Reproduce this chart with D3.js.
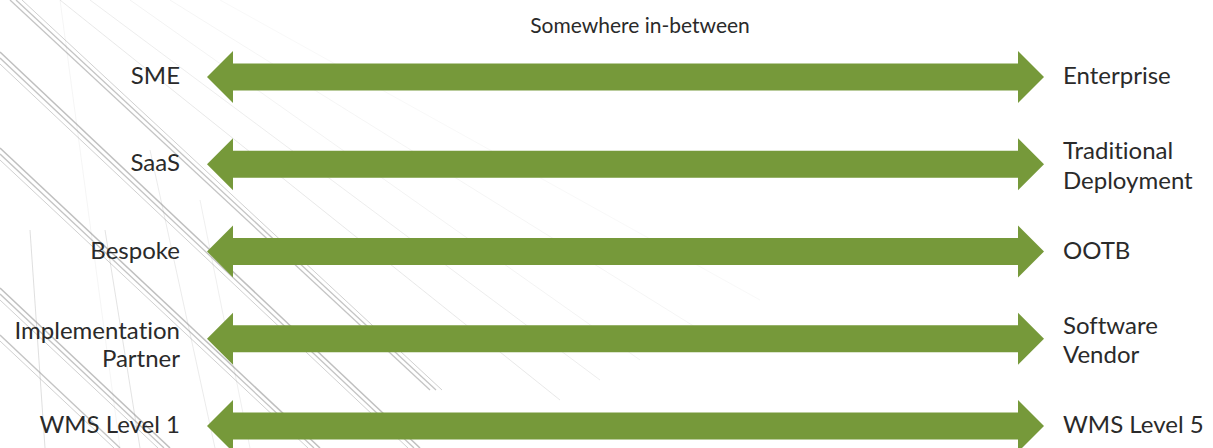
<!DOCTYPE html>
<html>
<head>
<meta charset="utf-8">
<script src="https://cdn.jsdelivr.net/npm/d3@7"></script>
<style>
  html, body { margin: 0; padding: 0; background: #ffffff; }
  svg { display: block; }
  text { font-variant-ligatures: none; }
</style>
</head>
<body>
<svg id="chart" width="1213" height="448"></svg>
<script>
// ---- data ----
const title = "Somewhere in-between";
const leftLabels = [["SME"], ["SaaS"], ["Bespoke"], ["Implementation", "Partner"], ["WMS Level 1"]];
const rightLabels = [["Enterprise"], ["Traditional", "Deployment"], ["OOTB"], ["Software", "Vendor"], ["WMS Level 5"]];
const spectrumEnds = [0, 1];

// ---- layout ----
const W = 1213, H = 448;
const svg = d3.select("#chart");
const green = "#76993a";
const textColor = "#2a2a2a";
const font = "Lato, 'Open Sans', sans-serif";

// decorative background (bridge cables)
const bg = svg.append("g").attr("class", "background");
const cables = [
  // [x1,y1,x2,y2,width,opacity]
  [10,0,430,390,1.3,0.5],[16,0,436,390,1.3,0.5],[22,0,442,390,1,0.4],
  [0,52,420,448,1.5,0.55],[0,58,414,448,1.3,0.5],[0,64,408,448,1,0.4],
  [0,148,320,448,1.5,0.55],[0,154,314,448,1.3,0.5],[0,160,308,448,1,0.4],
  [0,288,170,448,1.5,0.55],[0,294,164,448,1.3,0.5],[0,300,158,448,1,0.4],
  [0,335,120,448,1.3,0.5],[0,341,114,448,1,0.4],
  [60,0,560,400,0.8,0.25],[90,0,600,380,0.8,0.2],[130,0,640,360,0.7,0.15],
  [170,0,700,330,0.7,0.12],[220,0,760,300,0.6,0.1],
  [30,230,45,448,0.8,0.35],[105,230,140,448,0.8,0.3],[150,150,215,448,0.7,0.25],
  [200,200,250,448,0.7,0.2],[60,0,120,448,0.6,0.15]
];
bg.selectAll("line").data(cables).join("line")
  .attr("x1", d => d[0]).attr("y1", d => d[1])
  .attr("x2", d => d[2]).attr("y2", d => d[3])
  .attr("stroke", "#8a8a8a")
  .attr("stroke-width", d => d[4])
  .attr("stroke-opacity", d => d[5]);

// scales
const x = d3.scaleLinear().domain(d3.extent(spectrumEnds)).range([207, 1044]);
const y = d3.scalePoint().domain(d3.range(leftLabels.length)).range([77, 426]);

const headLen = 26, headHalf = 26, shaftHalf = 13.5;

function arrowPath(cy) {
  const x0 = x(spectrumEnds[0]), x1 = x(spectrumEnds[1]);
  const p = d3.path();
  p.moveTo(x0, cy);
  p.lineTo(x0 + headLen, cy - headHalf);
  p.lineTo(x0 + headLen, cy - shaftHalf);
  p.lineTo(x1 - headLen, cy - shaftHalf);
  p.lineTo(x1 - headLen, cy - headHalf);
  p.lineTo(x1, cy);
  p.lineTo(x1 - headLen, cy + headHalf);
  p.lineTo(x1 - headLen, cy + shaftHalf);
  p.lineTo(x0 + headLen, cy + shaftHalf);
  p.lineTo(x0 + headLen, cy + headHalf);
  p.closePath();
  return p.toString();
}

const rows = svg.append("g").selectAll("g.row")
  .data(leftLabels.map((l, i) => ({ i, left: l, right: rightLabels[i] })))
  .join("g").attr("class", "row");

rows.append("path")
  .attr("d", d => arrowPath(y(d.i)))
  .attr("fill", green);

function addLabel(sel, key, xPos, anchor, twoLineOffsets) {
  sel.append("text")
    .attr("x", xPos)
    .attr("text-anchor", anchor)
    .attr("font-family", font)
    .attr("font-size", 24)
    .attr("fill", textColor)
    .each(function(d) {
      const lines = d[key];
      const cy = y(d.i);
      const base = lines.length === 1 ? [cy + 7] : twoLineOffsets.map(o => cy + o);
      d3.select(this).selectAll("tspan").data(lines).join("tspan")
        .attr("x", xPos)
        .attr("y", (t, j) => base[j])
        .text(t => t);
    });
}
addLabel(rows, "left", 180, "end", [0, 28.5]);
addLabel(rows, "right", 1063, "start", [-5, 24.5]);

svg.append("text")
  .attr("x", 640).attr("y", 33)
  .attr("text-anchor", "middle")
  .attr("font-family", font)
  .attr("font-size", 21)
  .attr("fill", textColor)
  .text(title);
</script>
</body>
</html>
